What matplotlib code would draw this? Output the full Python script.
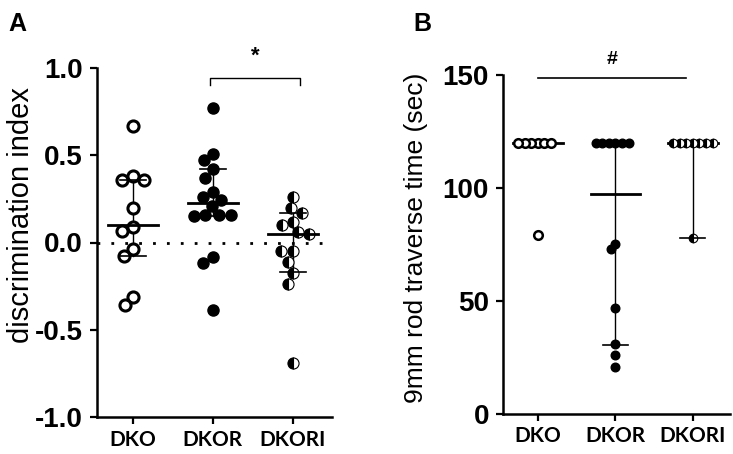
import matplotlib.pyplot as plt
import numpy as np

# ---- data ----
groups = ['DKO', 'DKOR', 'DKORI']

# panel A: discrimination index
dko_a = [0.67, 0.36, 0.38, 0.36, 0.20, 0.065, 0.09, -0.04, -0.08, -0.31, -0.36]
dkor_a = [0.77, 0.51, 0.47, 0.42, 0.37, 0.29, 0.245, 0.26, 0.21, 0.16, 0.155,
          0.15, 0.155, -0.085, -0.115, -0.385]
dkori_a = [0.26, 0.17, 0.195, 0.12, 0.10, 0.06, 0.046, -0.05, -0.05, -0.11,
           -0.175, -0.235, -0.69]
med_a = [0.10, 0.225, 0.046]
q1_a = [-0.08, 0.15, -0.17]
q3_a = [0.36, 0.42, 0.17]

# panel B: 9mm rod traverse time (sec)
dko_b = [120, 120, 120, 120, 120, 120, 79]
dkor_b = [120, 120, 120, 120, 120, 120, 75, 73, 47, 31, 26, 21]
dkori_b = [120, 120, 120, 120, 120, 120, 120, 78]
med_b = [120, 97.5, 120]
q1_b = [120, 30.5, 78]
q3_b = [120, 120, 120]

num_font = 'Liberation Sans'
cat_font = 'Lato'


def swarm(ax, x0, vals, gap):
    # simple beeswarm in pixel space: nearest free spot to the centre line
    pts = ax.transData.transform(np.column_stack([np.full(len(vals), x0), vals]))
    cx = pts[0, 0]
    ys = pts[:, 1]
    placed = []
    xs = np.zeros(len(vals))
    for i in np.argsort(-ys):
        bad = []
        for px, py in placed:
            dy = ys[i] - py
            if abs(dy) < gap:
                h = np.sqrt(gap ** 2 - dy ** 2)
                bad.append((px - h, px + h))
        cands = [0.0] + [e for b in bad for e in b]
        cands.sort(key=abs)
        for c in cands:
            if all(not (lo + 1e-6 < c < hi - 1e-6) for lo, hi in bad):
                xs[i] = c
                break
        placed.append((xs[i], ys[i]))
    out = ax.transData.inverted().transform(np.column_stack([cx + xs, ys]))
    return out[:, 0]


def style_axis(ax):
    for s in ['top', 'right']:
        ax.spines[s].set_visible(False)
    for s in ['left', 'bottom']:
        ax.spines[s].set_linewidth(1.8)
    ax.tick_params(width=1.6, length=5)
    ax.tick_params(axis='y', pad=5)
    ax.tick_params(axis='x', pad=4)
    ax.set_xticks(range(3))
    ax.set_xticklabels(groups, fontfamily=cat_font, fontweight='bold', fontsize=15)
    for lab in ax.get_yticklabels():
        lab.set_fontfamily(num_font)
        lab.set_fontweight('bold')
        lab.set_fontsize(20)


fig = plt.figure(figsize=(7.33, 4.54), dpi=100)

# ---------------- panel A ----------------
axA = fig.add_axes([97 / 733, 1 - 417 / 454, 235 / 733, 349 / 454])
axA.set_xlim(-0.45, 2.49)
axA.set_ylim(-1.0, 1.0)
axA.set_yticks([-1.0, -0.5, 0.0, 0.5, 1.0])
axA.set_yticklabels(['-1.0', '-0.5', '0.0', '0.5', '1.0'])
style_axis(axA)
axA.axhline(0, color='black', lw=2, ls=(0, (1, 4)), zorder=1)

data_a = [dko_a, dkor_a, dkori_a]
for i, vals in enumerate(data_a):
    xs = swarm(axA, i, vals, 11.5)
    if i == 0:
        axA.plot(xs, vals, 'o', ms=8, mfc='white', mec='black', mew=2.2, ls='none', zorder=3)
    elif i == 1:
        axA.plot(xs, vals, 'o', ms=8, mfc='black', mec='black', ls='none', zorder=3)
    else:
        axA.plot(xs, vals, 'o', ms=8, fillstyle='left', mfc='black', mfcalt='white',
                 mec='black', mew=0.8, ls='none', zorder=3)
    axA.plot([i, i], [q1_a[i], q3_a[i]], color='black', lw=1, zorder=2)
    axA.plot([i - 0.16, i + 0.16], [q1_a[i], q1_a[i]], color='black', lw=1.2, zorder=4)
    axA.plot([i - 0.16, i + 0.16], [q3_a[i], q3_a[i]], color='black', lw=1.2, zorder=4)
    axA.plot([i - 0.31, i + 0.31], [med_a[i], med_a[i]], color='black', lw=2, zorder=4)

axA.plot([0.96, 0.96, 2.09, 2.09], [0.90, 0.94, 0.94, 0.90], color='black', lw=1,
         clip_on=False)
axA.text(1.53, 1.01, '*', ha='center', va='bottom', fontsize=16, fontweight='bold',
         fontfamily=num_font)
axA.set_ylabel('discrimination index', fontfamily=num_font, fontsize=21)
axA.yaxis.set_label_coords(-0.262, 0.58)

# ---------------- panel B ----------------
axB = fig.add_axes([503 / 733, 1 - 414 / 454, 227 / 733, 339 / 454])
axB.set_xlim(-0.45, 2.48)
axB.set_ylim(0, 150)
axB.set_yticks([0, 50, 100, 150])
style_axis(axB)

data_b = [dko_b, dkor_b, dkori_b]
for i, vals in enumerate(data_b):
    xs = swarm(axB, i, vals, 6.6)
    axB.plot([i - 0.32, i + 0.32], [med_b[i], med_b[i]], color='black', lw=2, zorder=1)
    axB.plot([i, i], [q1_b[i], q3_b[i]], color='black', lw=1, zorder=1)
    if i == 0:
        axB.plot(xs, vals, 'o', ms=6.2, mfc='white', mec='black', mew=1.8, ls='none', zorder=3)
    elif i == 1:
        axB.plot(xs, vals, 'o', ms=6.2, mfc='black', mec='black', ls='none', zorder=3)
    else:
        axB.plot(xs, vals, 'o', ms=6.2, fillstyle='left', mfc='black', mfcalt='white',
                 mec='black', mew=0.8, ls='none', zorder=3)
    if q1_b[i] < med_b[i]:
        axB.plot([i - 0.16, i + 0.16], [q1_b[i], q1_b[i]], color='black', lw=1.2, zorder=4)

axB.plot([0, 1.91], [148.7, 148.7], color='black', lw=1.2, clip_on=False)
axB.text(0.955, 153, '#', ha='center', va='bottom', fontsize=14, fontweight='bold',
         fontfamily=num_font)
axB.set_ylabel('9mm rod traverse time (sec)', fontfamily=num_font, fontsize=19)
axB.yaxis.set_label_coords(-0.33, 0.52)

fig.text(8 / 733, 1 - 12 / 454, 'A', ha='left', va='top', fontsize=18,
         fontweight='bold', fontfamily=num_font)
fig.text(413 / 733, 1 - 12 / 454, 'B', ha='left', va='top', fontsize=18,
         fontweight='bold', fontfamily=num_font)

fig.savefig('out.png', dpi=100)
